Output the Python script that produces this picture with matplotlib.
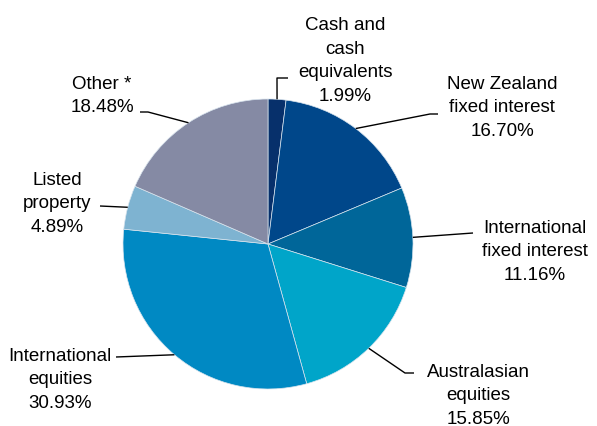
import numpy as np
import matplotlib.pyplot as plt

labels = ['Cash and\ncash\nequivalents', 'New Zealand\nfixed interest', 'International\nfixed interest',
          'Australasian\nequities', 'International\nequities', 'Listed\nproperty', 'Other *']
values = [1.99, 16.70, 11.16, 15.85, 30.93, 4.89, 18.48]
colors = ['#07306b', '#00478a', '#006699', '#00a5c9', '#0089c3', '#7eb3d1', '#858aa4']

# label layout in pixel coords (text centre, leader path points)
text_pos = [(345, 61), (502, 108), (535, 252), (478, 396), (60, 380), (57, 204), (102, 96)]
leader_pts = [[(277, 79), (288, 79)],
              [(430, 115), (438, 115)],
              [(473, 234)],
              [(405, 374), (414, 374)],
              [(116, 358)],
              [(100, 207)],
              [(148, 113), (140, 113)]]

W, H = 597, 427
fig = plt.figure(figsize=(W / 100, H / 100), dpi=100)
ax = fig.add_axes([0, 0, 1, 1])

cx, cy, r = 268, H - 245, 145
wedges, _ = ax.pie(values, colors=colors, startangle=90, counterclock=False,
                   center=(cx, cy), radius=r, frame=True,
                   wedgeprops=dict(edgecolor='#d8e4ee', linewidth=0.5))
ax.set_xlim(0, W)
ax.set_ylim(0, H)
ax.set_aspect('equal')
ax.axis('off')

for w, lab, val, tp, pts in zip(wedges, labels, values, text_pos, leader_pts):
    ang = np.deg2rad((w.theta1 + w.theta2) / 2)
    xs = [cx + r * np.cos(ang)] + [p[0] for p in pts]
    ys = [cy + r * np.sin(ang)] + [H - p[1] for p in pts]
    ax.plot(xs, ys, color='black', lw=1.0, solid_capstyle='butt')
    ax.text(tp[0], H - tp[1], '%s\n%.2f%%' % (lab, val), ha='center', va='center',
            fontsize=13.5, family='Liberation Sans', linespacing=1.5)

fig.savefig('out.png', dpi=100)
